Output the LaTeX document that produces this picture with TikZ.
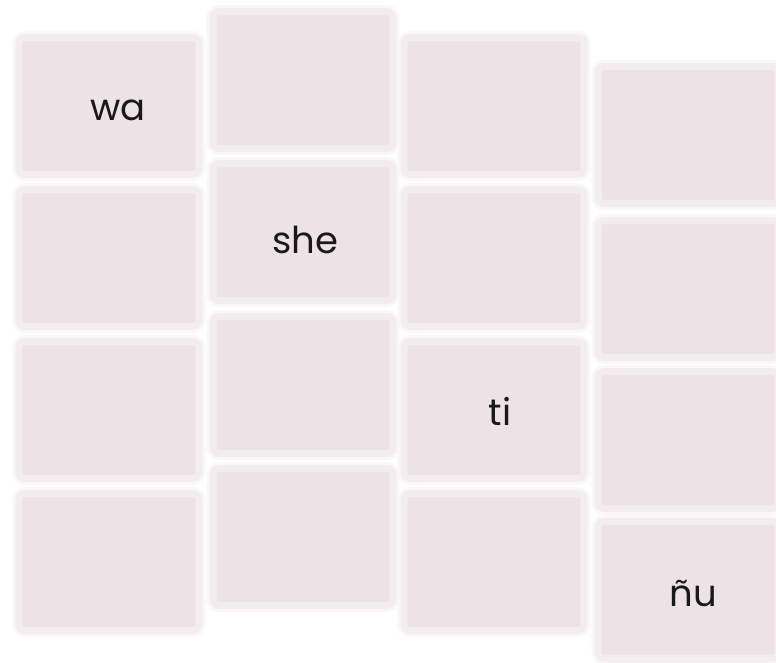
\documentclass[tikz,border=0pt]{standalone}
\usepackage{fontspec}
\setmainfont{Poppins}
\usetikzlibrary{positioning}
\definecolor{cardpink}{HTML}{EDE3E7}

\begin{document}
\begin{tikzpicture}[x=1pt,y=-1pt,
  card/.style={rectangle, rounded corners=6pt, inner sep=0pt, minimum width=180pt, minimum height=137pt,
    fill=cardpink, draw=cardpink!65, line width=7pt, preaction={draw=cardpink!28, line width=13pt}},
  syl/.style={anchor=base, font=\fontsize{37}{40}\selectfont, text=black!90}]
\useasboundingbox (0,0) rectangle (776,662);
% first column
\node (a1) [card] at (109,106) {};
\node (a2) [card] at (109,258) {};
\node (a3) [card] at (109,410) {};
\node (a4) [card] at (109,562) {};
% second column, set higher
\node (b1) [card] at (303,80) {};
\node (b2) [card] at (303,232) {};
\node (b3) [card] at (303,385) {};
\node (b4) [card] at (303,537) {};
% third column
\node (c1) [card] at (494,106) {};
\node (c2) [card] at (494,258) {};
\node (c3) [card] at (494,410) {};
\node (c4) [card] at (494,562) {};
% fourth column, set lower
\node (d1) [card] at (688,135) {};
\node (d2) [card] at (688,289) {};
\node (d3) [card] at (688,440) {};
\node (d4) [card] at (688,590) {};
% syllables
\node (wa) [syl] at (118,120) {wa};
\node (she) [syl] at (305,253) {she};
\node (ti) [syl] at (500,425) {ti};
\node (nu) [syl] at (693,606) {ñu};
\end{tikzpicture}
\end{document}
